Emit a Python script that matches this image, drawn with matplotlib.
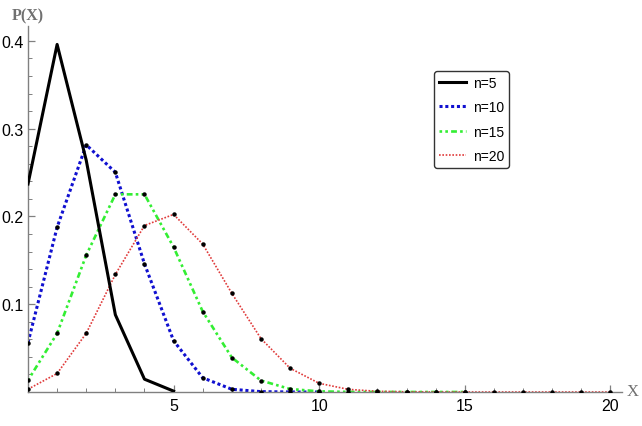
import matplotlib.pyplot as plt
from matplotlib.ticker import MultipleLocator

# binomial probabilities (p ~ 0.25)
x5 = [0, 1, 2, 3, 4, 5]
p5 = [0.237, 0.396, 0.264, 0.088, 0.0146, 0.001]

x10 = list(range(11))
p10 = [0.0563, 0.1877, 0.2816, 0.2503, 0.1460, 0.0584, 0.0162, 0.0031,
       0.0004, 0.00003, 0.0]

x15 = list(range(16))
p15 = [0.0134, 0.0668, 0.1559, 0.2252, 0.2252, 0.1651, 0.0917, 0.0393,
       0.0131, 0.0034, 0.0007, 0.0001, 0.0, 0.0, 0.0, 0.0]

x20 = list(range(21))
p20 = [0.0032, 0.0211, 0.0669, 0.1339, 0.1897, 0.2023, 0.1686, 0.1124,
       0.0609, 0.0271, 0.0099, 0.0030, 0.0008, 0.0002, 0.0, 0.0, 0.0,
       0.0, 0.0, 0.0, 0.0]

labels = ['n=5', 'n=10', 'n=15', 'n=20']
xticks = [5, 10, 15, 20]
yticks = [0.1, 0.2, 0.3, 0.4]

#------------------------------------------------------------------------------

plt.rcParams['font.family'] = ['Liberation Sans', 'DejaVu Sans']

fig = plt.figure(figsize=[6.42, 4.27], dpi=100)
ax = fig.add_axes([28/642, 1 - 393/427, (622 - 28)/642, (393 - 27)/427])

gray = '#808080'

ax.plot(x5, p5, color='black', lw=2.2, label=labels[0], zorder=3)
ax.plot(x10, p10, color='#1010d0', lw=2.2, ls=(0, (1, 0.9)), label=labels[1])
ax.plot(x15, p15, color='#33ee33', lw=1.9, ls=(0, (1, 1.2, 1, 1.2, 2.2, 1.2)),
        label=labels[2])
ax.plot(x20, p20, color='#e03a3a', lw=1.2, ls=(0, (1, 1)), label=labels[3])

# black dots at each point
for xs, ps in [(x10, p10), (x15, p15), (x20, p20)]:
    ax.plot(xs, ps, ls='none', marker='o', ms=2.2, color='black', zorder=4)

ax.set_xlim(0, 20.4)
ax.set_ylim(0, 0.417)

ax.spines['top'].set_visible(False)
ax.spines['right'].set_visible(False)
for s in ['left', 'bottom']:
    ax.spines[s].set_color(gray)
    ax.spines[s].set_linewidth(1.0)

ax.set_xticks(xticks)
ax.set_yticks(yticks)
ax.xaxis.set_minor_locator(MultipleLocator(1))
ax.yaxis.set_minor_locator(MultipleLocator(0.02))
ax.tick_params(which='both', direction='in', color=gray, labelsize=11.5,
               labelcolor='black')
ax.tick_params(which='major', length=5, width=0.9)
ax.tick_params(which='minor', length=3, width=0.7)
ax.tick_params(axis='x', pad=4)
ax.tick_params(axis='y', pad=3)

fig.text(12/642, 1 - 16/427, 'P(X)', family='Liberation Serif', fontsize=11.5,
         fontweight='bold', color='#707070', va='center', ha='left')
fig.text(627/642, 1 - 392/427, 'X', family='Liberation Serif', fontsize=12,
         color='#707070', va='center', ha='left')

leg = ax.legend(loc='upper left', bbox_to_anchor=(0.6835, 0.877), fontsize=10,
                frameon=True, fancybox=True, edgecolor='black',
                borderaxespad=0, handlelength=1.95, handletextpad=0.5,
                borderpad=0.35, labelspacing=0.75)
leg.get_frame().set_linewidth(1.0)

fig.savefig('out.png', dpi=100)
